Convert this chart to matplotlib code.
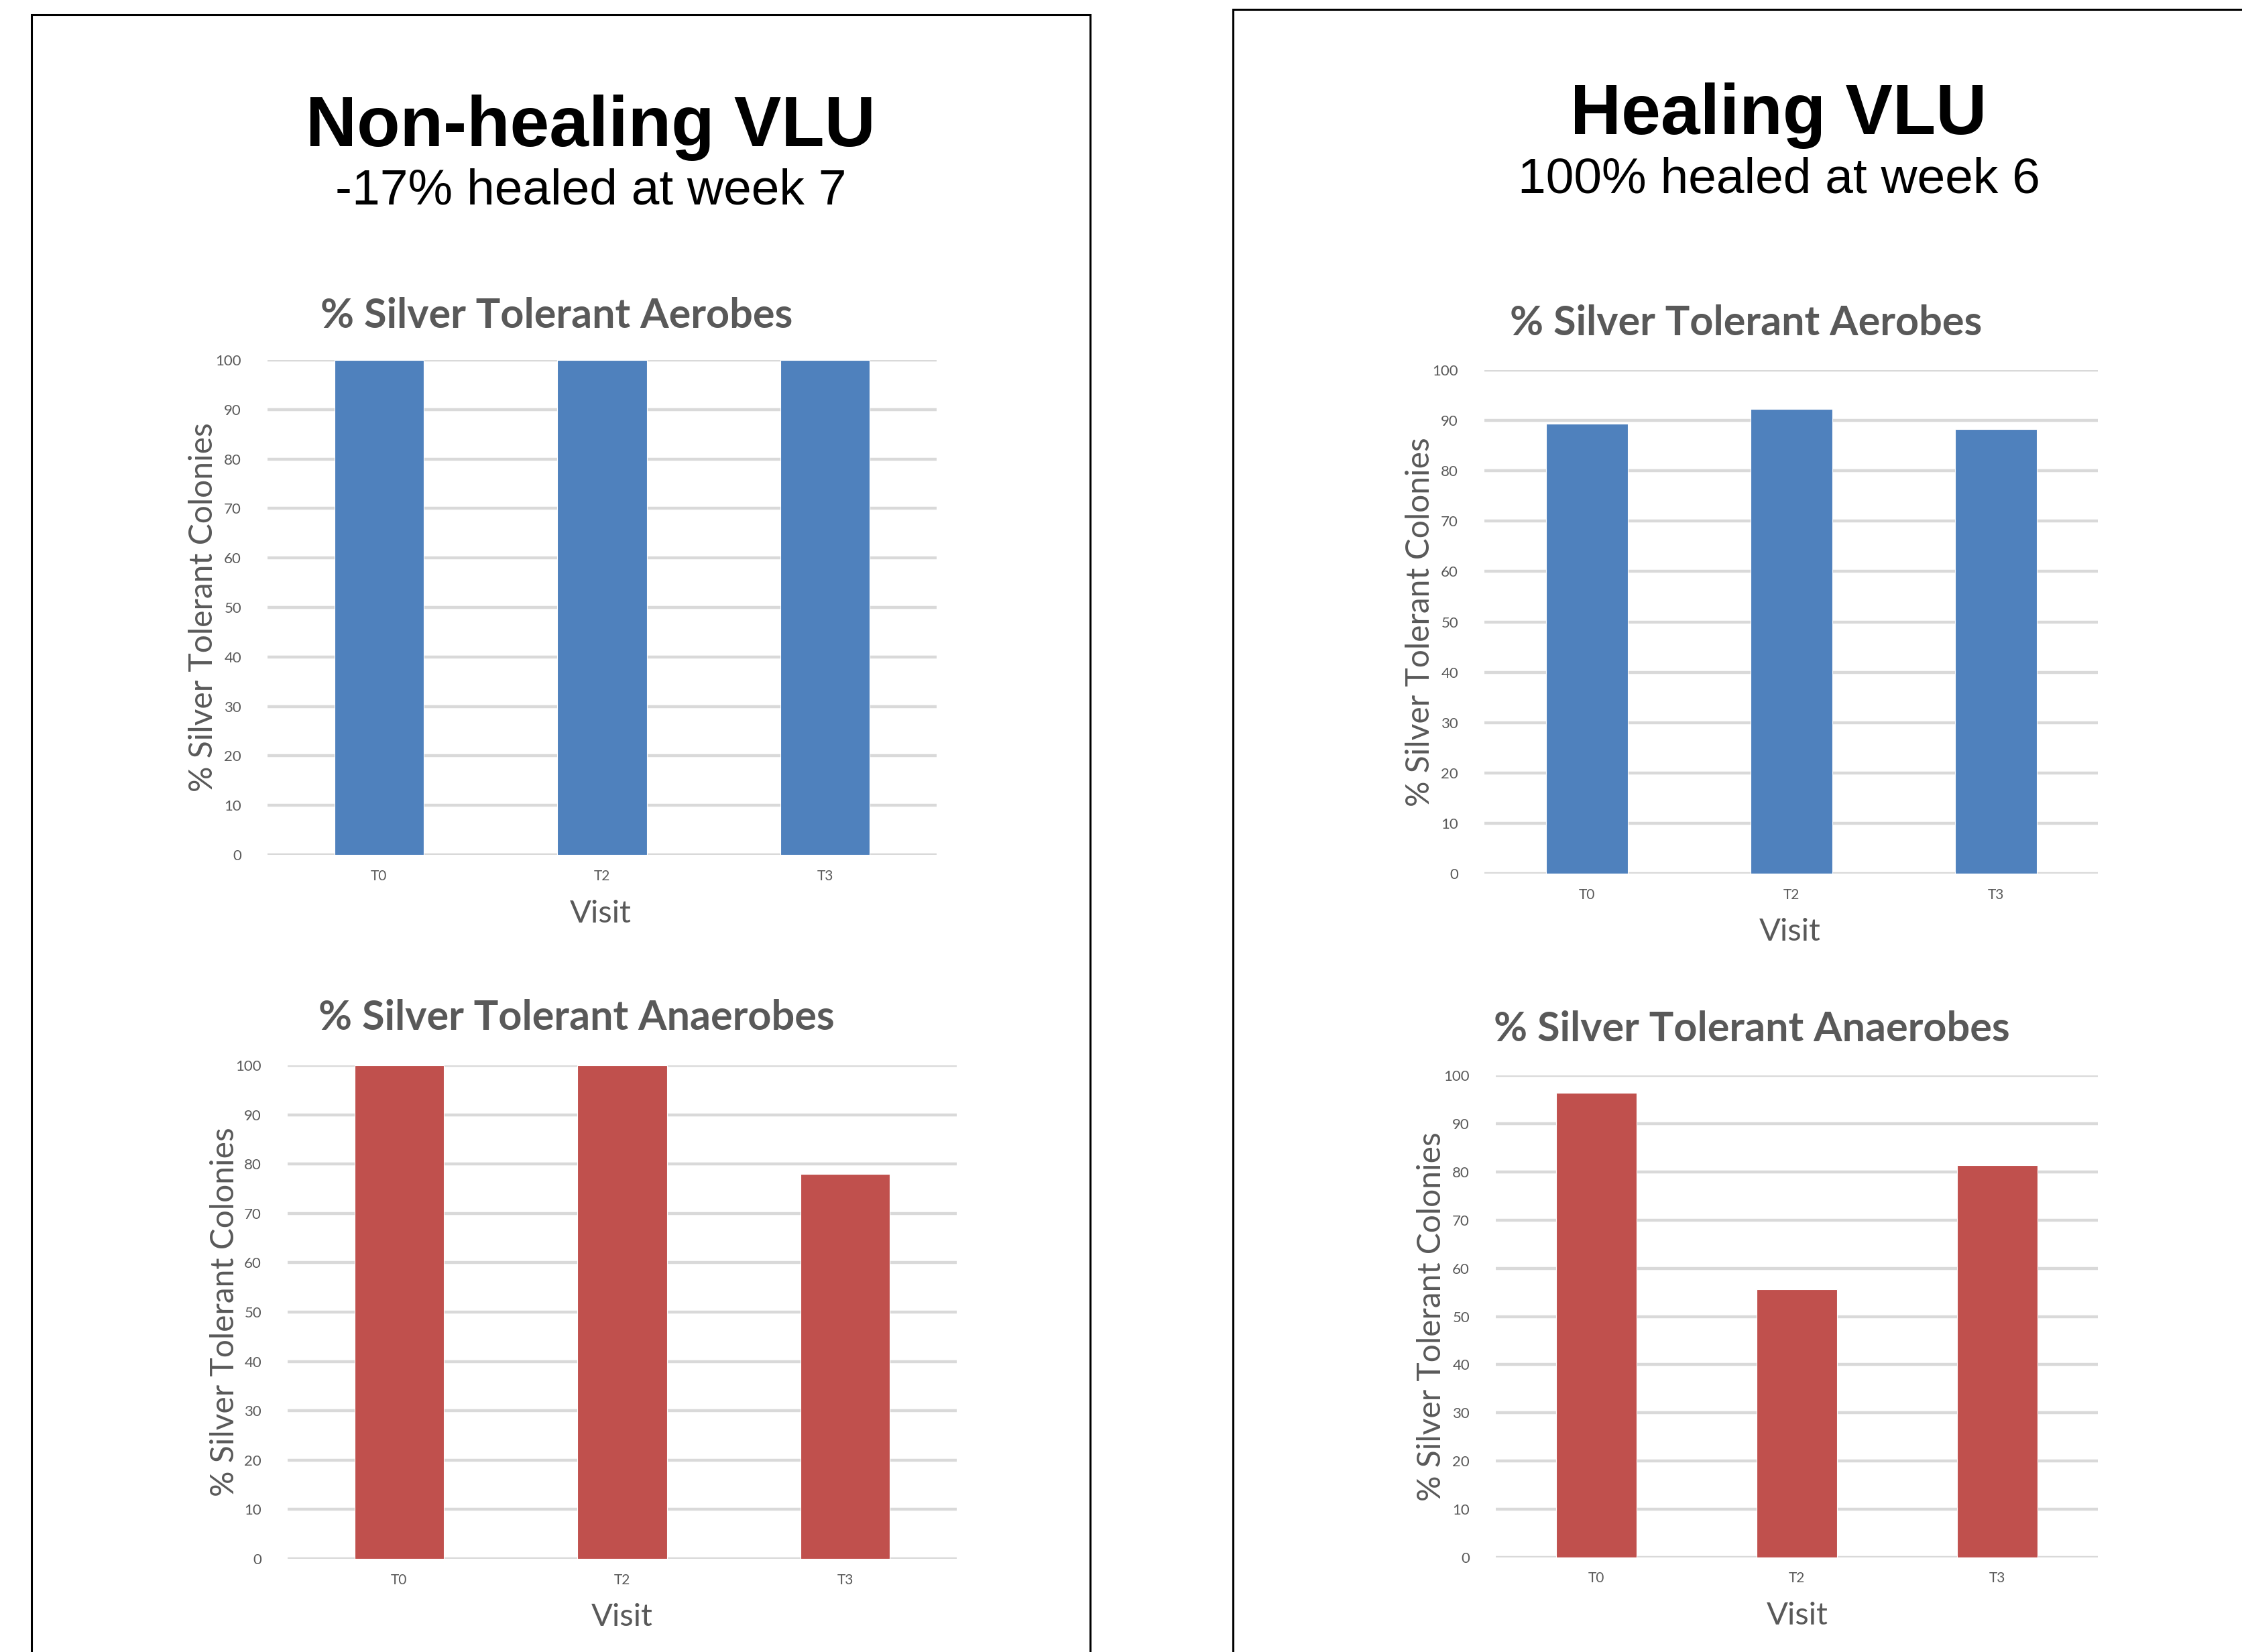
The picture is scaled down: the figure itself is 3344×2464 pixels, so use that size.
import matplotlib.pyplot as plt
from matplotlib.patches import Rectangle

visits = ["T0", "T2", "T3"]
nonhealing_aerobes = [100, 100, 100]
nonhealing_anaerobes = [100, 100, 78]
healing_aerobes = [89.4, 92.3, 88.3]
healing_anaerobes = [96.4, 55.7, 81.3]
yticks = list(range(0, 101, 10))

W, H = 3344, 2464
BLUE = "#4f81bd"
RED = "#c0504d"
GREY = "#595959"
GRID = "#d9d9d9"
CHART_FONT = "Lato"
HEAD_FONT = "Liberation Sans"


def fx(x):
    return x / W


def fy(y):
    return 1 - y / H


def add_chart(fig, box, values, color, title, title_xy, ylab_x, tick_y, visit_xy):
    x0, y0, x1, y1 = box
    ax = fig.add_axes([fx(x0), fy(y1), (x1 - x0) / W, (y1 - y0) / H])
    ax.bar(range(len(visits)), values, width=0.4, color=color, edgecolor="white",
           linewidth=0.4, zorder=3)
    ax.set_xlim(-0.5, len(visits) - 0.5)
    ax.set_ylim(0, 100)
    ax.set_yticks(yticks)
    ax.set_xticks(range(len(visits)))
    ax.set_xticklabels([])
    ax.tick_params(axis="y", length=0, pad=14, labelsize=8, labelcolor=GREY)
    ax.tick_params(axis="x", length=0)
    for lab in ax.get_yticklabels():
        lab.set_fontfamily(CHART_FONT)
    ax.grid(axis="y", color=GRID, linewidth=1.6, zorder=0)
    for s in ax.spines.values():
        s.set_visible(False)
    # category labels under the bars
    below = -(tick_y - y1) / (y1 - y0)
    for i, v in enumerate(visits):
        ax.text(i, below, v, transform=ax.get_xaxis_transform(), fontsize=7.5,
                color=GREY, family=CHART_FONT, ha="center", va="center")
    fig.text(fx(title_xy[0]), fy(title_xy[1]), title, fontsize=22, fontweight="bold",
             color=GREY, family=CHART_FONT, ha="center", va="center")
    fig.text(fx(ylab_x), fy((y0 + y1) / 2), "% Silver Tolerant Colonies", fontsize=17.3,
             color=GREY, family=CHART_FONT, rotation=90, ha="center", va="center")
    fig.text(fx(visit_xy[0]), fy(visit_xy[1]), "Visit", fontsize=17,
             color=GREY, family=CHART_FONT, ha="center", va="center")
    return ax


def main():
    fig = plt.figure(figsize=(W / 200, H / 200), dpi=200)

    # panel frames
    fig.add_artist(Rectangle((fx(47), fy(2600)), fx(1626 - 47), (2600 - 22) / H,
                             transform=fig.transFigure, fill=False, edgecolor="black",
                             linewidth=1.1))
    fig.add_artist(Rectangle((fx(1839), fy(2600)), fx(3500 - 1839), (2600 - 14) / H,
                             transform=fig.transFigure, fill=False, edgecolor="black",
                             linewidth=1.1))

    fig.text(fx(881), fy(191), "Non-healing VLU", fontsize=38, fontweight="bold",
             family=HEAD_FONT, ha="center", va="center")
    fig.text(fx(881), fy(285), "-17% healed at week 7", fontsize=27,
             family=HEAD_FONT, ha="center", va="center")
    fig.text(fx(2653), fy(172), "Healing VLU", fontsize=38, fontweight="bold",
             family=HEAD_FONT, ha="center", va="center")
    fig.text(fx(2653), fy(268), "100% healed at week 6", fontsize=27,
             family=HEAD_FONT, ha="center", va="center")

    add_chart(fig, (399, 537, 1397, 1275), nonhealing_aerobes, BLUE,
              "% Silver Tolerant Aerobes", (830, 471), 303, 1307, (896, 1363))
    add_chart(fig, (429, 1589, 1427, 2325), nonhealing_anaerobes, RED,
              "% Silver Tolerant Anaerobes", (860, 1518), 335, 2357, (928, 2412))
    add_chart(fig, (2214, 552, 3129, 1303), healing_aerobes, BLUE,
              "% Silver Tolerant Aerobes", (2604, 482), 2118, 1335, (2670, 1390))
    add_chart(fig, (2231, 1604, 3129, 2323), healing_anaerobes, RED,
              "% Silver Tolerant Anaerobes", (2613, 1535), 2135, 2354, (2681, 2410))

    fig.savefig("out.png", dpi=200, facecolor="white")


if __name__ == "__main__":
    main()
